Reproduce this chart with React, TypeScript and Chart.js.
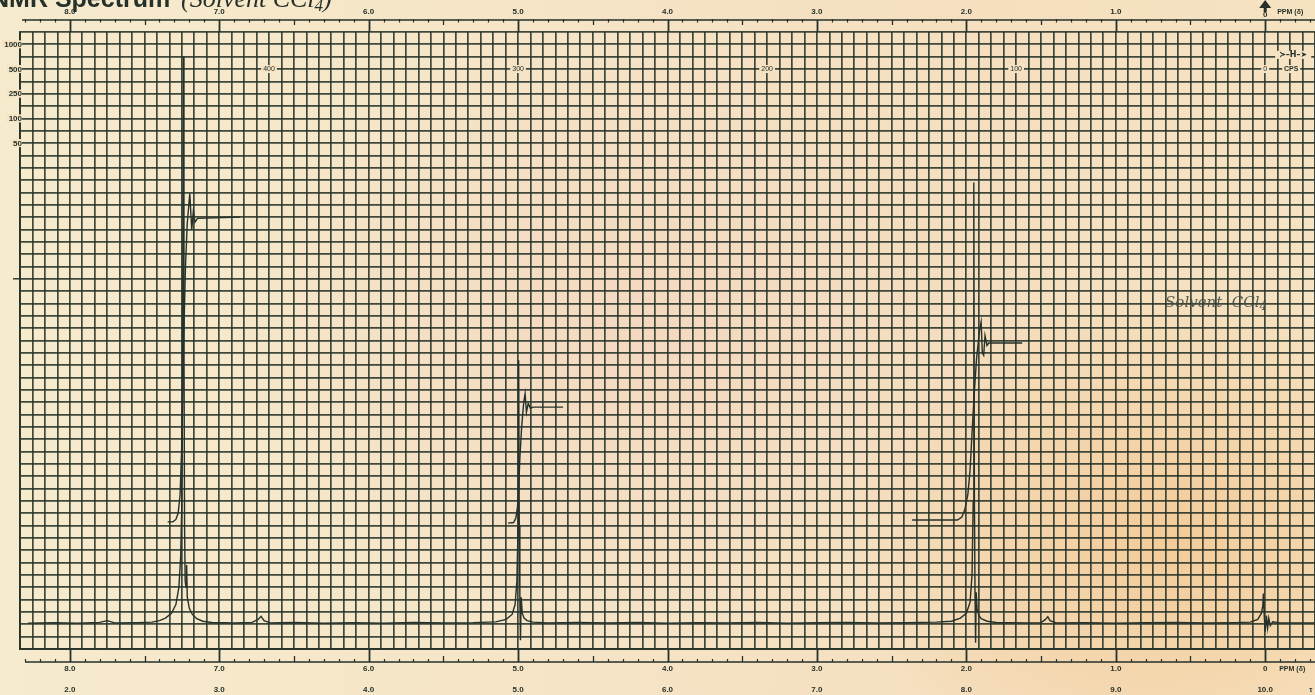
import React, { useEffect, useRef } from "react";
import { Chart, registerables } from "chart.js";

Chart.register(...registerables);

const INK = "#25312a";
const GRID = "rgba(38,50,40,0.88)";
const PAPER = "#f5e3c3";

const X_MIN = -1 / 3;
const X_MAX = 25 / 3;
const Y_MIN = 0;
const Y_MAX = 50;

// ruler labels
const ppmMajor = [8, 7, 6, 5, 4, 3, 2, 1, 0];
const ppmLabels = ["8.0", "7.0", "6.0", "5.0", "4.0", "3.0", "2.0", "1.0", "0"];
const tauLabels = ["2.0", "3.0", "4.0", "5.0", "6.0", "7.0", "8.0", "9.0", "10.0"];
const cpsValues = [400, 300, 200, 100, 0];
const cpsLabels = ["400", "300", "200", "100", "0"];
const sweepLabels = ["1000", "500", "250", "100", "50"];
const sweepRows = [49, 47, 45, 43, 41];
const cpsRow = 47;

// spectrum trace (ppm, chart divisions)
const spectrumPpm = [
  8.28, 8.1, 7.95, 7.8, 7.75, 7.7, 7.55, 7.45, 7.4, 7.36, 7.32, 7.29, 7.27, 7.258, 7.25, 7.245, 7.24,
  7.236, 7.232, 7.228, 7.222, 7.218, 7.214, 7.2, 7.18, 7.15, 7.11, 7.05, 6.9, 6.78, 6.74, 6.72, 6.7,
  6.66, 6.5, 6.3, 6.1, 5.9, 5.7, 5.5, 5.3, 5.15, 5.08, 5.04, 5.02, 5.008, 5.0, 4.996, 4.992, 4.988,
  4.984, 4.979, 4.972, 4.96, 4.94, 4.9, 4.8, 4.6, 4.4, 4.2, 4.0, 3.8, 3.6, 3.4, 3.2, 3.0, 2.8, 2.6,
  2.4, 2.2, 2.1, 2.04, 2.0, 1.975, 1.962, 1.954, 1.95, 1.946, 1.942, 1.938, 1.934, 1.928, 1.915, 1.9,
  1.86, 1.8, 1.6, 1.5, 1.47, 1.455, 1.44, 1.4, 1.2, 1.0, 0.8, 0.6, 0.4, 0.2, 0.1, 0.05, 0.025, 0.016,
  0.012, 0.006, 0.0, -0.008, -0.016, -0.024, -0.034, -0.05, -0.1, -0.33,
];
const spectrumInt = [
  2.1, 2.14, 2.1, 2.16, 2.3, 2.12, 2.14, 2.18, 2.3, 2.5, 2.9, 3.6, 5.0, 7.5, 12, 22, 48.0,
  25, 10, 5.5, 5.0, 6.8, 4.2, 3.3, 2.8, 2.45, 2.25, 2.15, 2.12, 2.16, 2.4, 2.65, 2.3,
  2.12, 2.15, 2.1, 2.14, 2.1, 2.15, 2.12, 2.14, 2.2, 2.4, 2.8, 3.6, 5.5, 10, 23.4, 10, 4.0,
  0.7, 4.2, 2.9, 2.5, 2.3, 2.18, 2.12, 2.16, 2.12, 2.15, 2.1, 2.14, 2.12, 2.15, 2.1, 2.13, 2.16, 2.12,
  2.14, 2.18, 2.25, 2.5, 2.9, 3.8, 6, 12, 37.8, 12, 4.5, 0.5, 4.6, 3.2, 2.7, 2.45,
  2.25, 2.15, 2.12, 2.14, 2.4, 2.62, 2.3, 2.12, 2.14, 2.1, 2.13, 2.15, 2.11, 2.14, 2.18, 2.4, 2.9, 3.5,
  4.5, 2.6, 1.4, 2.7, 1.7, 2.5, 1.9, 2.2, 2.12, 2.12,
];

// integral traces
const integral1Ppm = [7.345, 7.31, 7.29, 7.275, 7.262, 7.252, 7.244, 7.236, 7.226, 7.214, 7.197, 7.184, 7.173, 7.162, 7.145, 6.86];
const integral1Val = [10.3, 10.3, 10.5, 11.0, 12.5, 16, 21, 26, 31, 34.5, 36.9, 34.0, 35.5, 34.6, 34.9, 35.0];
const integral2Ppm = [5.067, 5.03, 5.015, 5.004, 4.996, 4.988, 4.976, 4.962, 4.953, 4.944, 4.932, 4.918, 4.9, 4.699];
const integral2Val = [10.2, 10.25, 10.6, 11.5, 13, 15.5, 18, 20.0, 20.7, 19.2, 19.9, 19.5, 19.6, 19.6];
const integral3Ppm = [2.363, 2.06, 2.03, 2.01, 1.99, 1.975, 1.962, 1.948, 1.932, 1.912, 1.901, 1.893, 1.884, 1.875, 1.862, 1.85, 1.626];
const integral3Val = [10.45, 10.45, 10.7, 11.3, 12.5, 14.5, 17.5, 20.5, 23.5, 25.8, 26.5, 24.0, 23.8, 25.4, 24.6, 24.8, 24.8];

const toPoints = (xs: number[], ys: number[]) => xs.map((x, i) => ({ x, y: ys[i] }));

const xGridValues = Array.from({ length: 105 }, (_, i) => (i - 4) / 12);
const yGridValues = Array.from({ length: 51 }, (_, i) => i);

const decorPlugin = {
  id: "paperDecor",
  afterDraw(chart: any) {
    const { ctx, chartArea } = chart;
    const xs = chart.scales.x;
    const ys = chart.scales.y;
    const { top, bottom, left, right } = chartArea;
    ctx.save();
    ctx.strokeStyle = INK;
    ctx.fillStyle = INK;

    // title (cut off at top edge)
    ctx.textBaseline = "alphabetic";
    ctx.textAlign = "left";
    ctx.font = "bold 25px 'Liberation Sans', Arial, sans-serif";
    ctx.fillText("NMR Spectrum", -9, 7);
    ctx.font = "italic 26px 'Liberation Serif', serif";
    let tx = 181;
    ctx.fillText("(Solvent CCl", tx, 7);
    tx += ctx.measureText("(Solvent CCl").width;
    ctx.font = "italic 17px 'Liberation Serif', serif";
    ctx.fillText("4", tx, 11);
    tx += ctx.measureText("4").width;
    ctx.font = "italic 26px 'Liberation Serif', serif";
    ctx.fillText(")", tx, 7);

    // top ruler
    const rt = top - 12;
    ctx.lineWidth = 1.3;
    ctx.beginPath();
    ctx.moveTo(left + 2, rt);
    ctx.lineTo(right, rt);
    ctx.stroke();
    for (let k = -3; k <= 83; k++) {
      const px = Math.round(xs.getPixelForValue(k / 10)) + 0.5;
      ctx.beginPath();
      if (k % 10 === 0 && k >= 0) {
        ctx.lineWidth = 1.8;
        ctx.moveTo(px, rt);
        ctx.lineTo(px, top);
      } else if (k % 5 === 0) {
        ctx.lineWidth = 1.3;
        ctx.moveTo(px, rt);
        ctx.lineTo(px, rt + 5);
      } else {
        ctx.lineWidth = 1.2;
        ctx.moveTo(px, rt - 1);
        ctx.lineTo(px, rt + 2.5);
      }
      ctx.stroke();
    }

    // bottom ruler
    const rb = bottom + 13;
    ctx.lineWidth = 1.3;
    ctx.beginPath();
    ctx.moveTo(left + 5, rb);
    ctx.lineTo(right, rb);
    ctx.stroke();
    for (let k = -3; k <= 83; k++) {
      const px = Math.round(xs.getPixelForValue(k / 10)) + 0.5;
      ctx.beginPath();
      if (k % 10 === 0 && k >= 0) {
        ctx.lineWidth = 1.8;
        ctx.moveTo(px, bottom);
        ctx.lineTo(px, rb);
      } else if (k % 5 === 0) {
        ctx.lineWidth = 1.3;
        ctx.moveTo(px, rb - 6);
        ctx.lineTo(px, rb);
      } else {
        ctx.lineWidth = 1.2;
        ctx.moveTo(px, rb - 3);
        ctx.lineTo(px, rb);
      }
      ctx.stroke();
    }

    // ruler labels
    ctx.font = "bold 8px 'Liberation Sans', Arial, sans-serif";
    ctx.textAlign = "center";
    ctx.textBaseline = "middle";
    ppmMajor.forEach((p, i) => {
      const px = xs.getPixelForValue(p);
      if (i < ppmMajor.length - 1) ctx.fillText(ppmLabels[i], px, rt - 8);
      ctx.fillText(ppmLabels[i], px, rb + 7);
      ctx.fillText(tauLabels[i], px, rb + 28);
    });
    const zeroX = xs.getPixelForValue(0);
    ctx.fillText("0", zeroX, rt - 5);
    // arrow above 0
    ctx.beginPath();
    ctx.moveTo(zeroX - 6, 8);
    ctx.lineTo(zeroX + 6, 8);
    ctx.lineTo(zeroX, 0);
    ctx.closePath();
    ctx.fill();
    ctx.fillRect(zeroX - 1.5, 7, 3, 5);
    ctx.textAlign = "left";
    ctx.font = "bold 7px 'Liberation Sans', Arial, sans-serif";
    ctx.fillText("PPM (δ)", zeroX + 12, rt - 8);
    ctx.fillText("PPM (δ)", zeroX + 14, rb + 7);
    ctx.fillText("τ", zeroX + 44, rb + 28);

    // CPS labels on grid row
    ctx.font = "7px 'Liberation Sans', Arial, sans-serif";
    ctx.textAlign = "center";
    const cy = ys.getPixelForValue(cpsRow);
    cpsValues.forEach((c, i) => {
      const px = xs.getPixelForValue(c / 60);
      const w = ctx.measureText(cpsLabels[i]).width + 4;
      ctx.fillStyle = PAPER;
      ctx.fillRect(px - w / 2, cy - 4, w, 8);
      ctx.fillStyle = INK;
      ctx.fillText(cpsLabels[i], px, cy + 0.5);
    });
    ctx.fillStyle = PAPER;
    ctx.fillRect(zeroX + 17, cy - 4, 18, 8);
    ctx.fillStyle = INK;
    ctx.font = "bold 7px 'Liberation Sans', Arial, sans-serif";
    ctx.fillText("CPS", zeroX + 26, cy + 0.5);
    const hy = ys.getPixelForValue(48.15);
    ctx.fillStyle = PAPER;
    ctx.fillRect(zeroX + 10, hy - 4, 36, 8);
    ctx.fillStyle = INK;
    ctx.font = "bold 8px 'DejaVu Sans', sans-serif";
    ctx.fillText("≻–H–➤", zeroX + 28, hy + 0.5);

    // sweep width labels on left
    ctx.font = "bold 8px 'Liberation Sans', Arial, sans-serif";
    ctx.textAlign = "right";
    sweepRows.forEach((r, i) => {
      const py = ys.getPixelForValue(r);
      const w = ctx.measureText(sweepLabels[i]).width + 2;
      ctx.fillStyle = PAPER;
      ctx.fillRect(left + 2 - w, py - 4, w, 8);
      ctx.fillStyle = INK;
      ctx.fillText(sweepLabels[i], left + 2, py + 0.5);
    });
    ctx.lineWidth = 1.4;
    ctx.beginPath();
    const ty = ys.getPixelForValue(30);
    ctx.moveTo(left - 7, ty);
    ctx.lineTo(left, ty);
    ctx.stroke();

    // handwritten solvent note
    ctx.fillStyle = "rgba(70,78,70,0.9)";
    ctx.textAlign = "left";
    ctx.textBaseline = "alphabetic";
    ctx.font = "italic 15px 'DejaVu Serif', serif";
    const sx = xs.getPixelForValue(0.67);
    const sy = ys.getPixelForValue(27.7);
    ctx.fillText("Solvent  CCl", sx, sy);
    const sw = ctx.measureText("Solvent  CCl").width;
    ctx.font = "italic 12px 'DejaVu Serif', serif";
    ctx.fillText("4", sx + sw, sy + 3);

    ctx.restore();
  },
};

export default function App() {
  const canvasRef = useRef<HTMLCanvasElement | null>(null);

  useEffect(() => {
    const canvas = canvasRef.current;
    if (!canvas) return;
    const lineDs = (data: any[], width: number) => ({
      data,
      borderColor: INK,
      borderWidth: width,
      pointRadius: 0,
      tension: 0,
      fill: false,
    });
    const chart = new Chart(canvas, {
      type: "line",
      data: {
        datasets: [
          lineDs(toPoints(spectrumPpm, spectrumInt), 1.4),
          lineDs(toPoints(integral1Ppm, integral1Val), 1.4),
          lineDs(toPoints(integral2Ppm, integral2Val), 1.4),
          lineDs(toPoints(integral3Ppm, integral3Val), 1.4),
        ],
      },
      options: {
        animation: false,
        responsive: false,
        devicePixelRatio: 1,
        events: [],
        layout: { padding: { left: 20, right: 0, top: 32, bottom: 46 } },
        plugins: { legend: { display: false }, tooltip: { enabled: false }, title: { display: false } },
        scales: {
          x: {
            type: "linear",
            reverse: true,
            min: X_MIN,
            max: X_MAX,
            afterBuildTicks: (s: any) => {
              s.ticks = xGridValues.map((v) => ({ value: v }));
            },
            ticks: { display: false },
            grid: { color: GRID, lineWidth: 1.7, drawTicks: false },
            border: { display: true, color: GRID, width: 2 },
          },
          y: {
            type: "linear",
            min: Y_MIN,
            max: Y_MAX,
            afterBuildTicks: (s: any) => {
              s.ticks = yGridValues.map((v) => ({ value: v }));
            },
            ticks: { display: false },
            grid: { color: GRID, lineWidth: 1.7, drawTicks: false },
            border: { display: true, color: GRID, width: 2 },
          },
        },
      },
      plugins: [decorPlugin],
    });
    return () => chart.destroy();
  }, []);

  return (
    <div
      style={{
        position: "fixed",
        left: 0,
        top: 0,
        width: 1315,
        height: 695,
        overflow: "hidden",
        background:
          "radial-gradient(ellipse 320px 260px at 1170px 540px, rgba(242,196,140,0.75), rgba(242,196,140,0) 100%), radial-gradient(ellipse 420px 300px at 640px 330px, rgba(243,214,190,0.8), rgba(243,214,190,0) 100%), linear-gradient(90deg, #f7ebcd 0%, #f6e4c6 45%, #f5dfbf 75%, #f6e3c2 100%)",
      }}
    >
      <canvas ref={canvasRef} width={1315} height={695} style={{ display: "block" }} />
    </div>
  );
}
